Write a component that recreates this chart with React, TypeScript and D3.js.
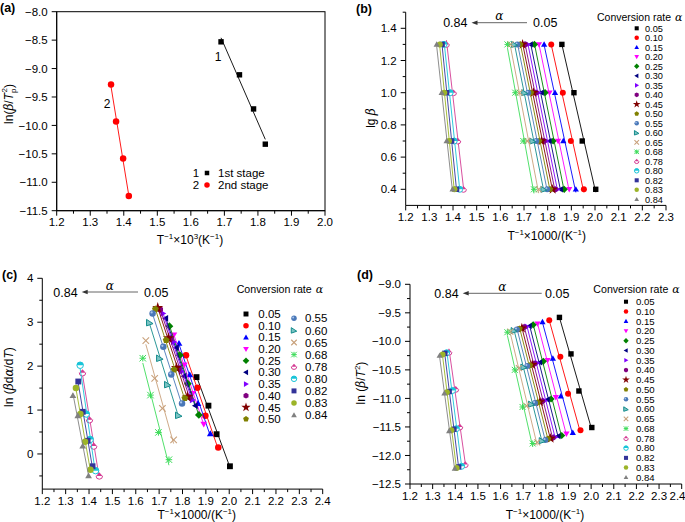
import React from 'react';
import * as d3 from 'd3';

const FONT = '"Liberation Sans", Arial, Helvetica, sans-serif';
const NARROW = '"Liberation Sans Narrow", "Arial Narrow", "Liberation Sans", Arial, sans-serif';

// ---------- Panel (a) data ----------
const stage1X = [1.69, 1.745, 1.787, 1.822];
const stage1Y = [-8.53, -9.11, -9.71, -10.33];
const stage2X = [1.362, 1.377, 1.398, 1.415];
const stage2Y = [-9.28, -9.93, -10.58, -11.24];

// ---------- Panels (b)-(d) data ----------
const alphaLabels = ['0.05', '0.10', '0.15', '0.20', '0.25', '0.30', '0.35', '0.40', '0.45', '0.50',
  '0.55', '0.60', '0.65', '0.68', '0.78', '0.80', '0.82', '0.83', '0.84'];

// lg(beta) for heating rates 20, 10, 5, 2.5 K/min
const lgBeta = [1.3, 1.0, 0.7, 0.4];

// T^-1 x 1000 for each conversion rate (beta = 20, 10, 5, 2.5)
const invT = [
  [1.860, 1.911, 1.946, 2.003],
  [1.815, 1.864, 1.898, 1.953],
  [1.785, 1.831, 1.866, 1.919],
  [1.763, 1.808, 1.844, 1.891],
  [1.744, 1.789, 1.823, 1.870],
  [1.728, 1.774, 1.807, 1.855],
  [1.716, 1.762, 1.795, 1.842],
  [1.704, 1.750, 1.784, 1.831],
  [1.694, 1.740, 1.774, 1.821],
  [1.684, 1.730, 1.764, 1.810],
  [1.672, 1.718, 1.752, 1.798],
  [1.660, 1.703, 1.737, 1.784],
  [1.643, 1.681, 1.714, 1.762],
  [1.630, 1.663, 1.697, 1.742],
  [1.372, 1.402, 1.420, 1.444],
  [1.362, 1.388, 1.405, 1.428],
  [1.354, 1.373, 1.394, 1.415],
  [1.344, 1.363, 1.383, 1.406],
  [1.331, 1.352, 1.373, 1.398],
];

// ln(beta dα/dT)
const lnBdadT = [
  [1.75, 1.10, 0.45, -0.28],
  [2.25, 1.51, 0.87, 0.15],
  [2.52, 1.80, 1.15, 0.46],
  [2.71, 2.03, 1.38, 0.68],
  [2.91, 2.25, 1.60, 0.89],
  [3.09, 2.42, 1.77, 1.10],
  [3.20, 2.55, 1.88, 1.23],
  [3.29, 2.62, 1.95, 1.29],
  [3.33, 2.64, 1.96, 1.30],
  [3.30, 2.59, 1.92, 1.27],
  [3.20, 2.44, 1.81, 1.15],
  [2.99, 2.18, 1.58, 0.88],
  [2.58, 1.72, 1.04, 0.32],
  [2.18, 1.34, 0.49, -0.13],
  [1.85, 0.78, 0.18, -0.50],
  [2.02, 0.91, 0.33, -0.38],
  [1.65, 0.96, 0.30, -0.28],
  [1.50, 0.91, 0.28, -0.36],
  [1.33, 0.87, 0.18, -0.50],
];

// ln(beta/T^2)
const lnBT2 = [
  [-9.58, -10.22, -10.87, -11.51],
  [-9.63, -10.27, -10.92, -11.56],
  [-9.66, -10.30, -10.96, -11.60],
  [-9.69, -10.33, -10.98, -11.62],
  [-9.71, -10.35, -11.01, -11.65],
  [-9.73, -10.37, -11.02, -11.66],
  [-9.74, -10.38, -11.04, -11.68],
  [-9.75, -10.39, -11.05, -11.69],
  [-9.77, -10.41, -11.06, -11.70],
  [-9.78, -10.42, -11.07, -11.71],
  [-9.79, -10.43, -11.08, -11.73],
  [-9.81, -10.45, -11.10, -11.74],
  [-9.83, -10.47, -11.13, -11.77],
  [-9.84, -10.50, -11.15, -11.79],
  [-10.19, -10.84, -11.50, -12.16],
  [-10.20, -10.86, -11.53, -12.19],
  [-10.21, -10.88, -11.54, -12.20],
  [-10.23, -10.89, -11.56, -12.22],
  [-10.25, -10.91, -11.57, -12.23],
];

const seriesColors = ['#000000', '#ff0000', '#0000ff', '#ff00ff', '#008000', '#000080', '#8000ff', '#800080',
  '#800000', '#808000', '#4a78b8', '#148c8c', '#c8a07a', '#3ddc5a', '#d43c94', '#18c4d8', '#333399', '#9cb428', '#808080'];
const seriesShapes = ['square', 'circle', 'triUp', 'triDown', 'diamond', 'triLeft', 'triRight', 'hexagon', 'star',
  'pentagon', 'sphere', 'flag', 'cross', 'asterisk', 'halfTri', 'halfCircle', 'square', 'circle', 'triUp'];

// ---------- helpers ----------
function polyPts(n: number, r: number, rotDeg: number, cx: number, cy: number) {
  const pts: string[] = [];
  for (let i = 0; i < n; i++) {
    const a = ((rotDeg - 90) + (360 / n) * i) * Math.PI / 180;
    pts.push(`${cx + r * Math.cos(a)},${cy + r * Math.sin(a)}`);
  }
  return pts.join(' ');
}

function Marker({ shape, color, cx, cy, s }: { shape: string; color: string; cx: number; cy: number; s: number }) {
  const r = s / 2;
  switch (shape) {
    case 'square':
      return <rect x={cx - r * 0.9} y={cy - r * 0.9} width={r * 1.8} height={r * 1.8} fill={color} />;
    case 'circle':
      return <circle cx={cx} cy={cy} r={r} fill={color} />;
    case 'sphere':
      return <g><circle cx={cx} cy={cy} r={r} fill={color} /><circle cx={cx - r * 0.3} cy={cy - r * 0.3} r={r * 0.35} fill="#a8c4ec" /></g>;
    case 'triUp':
      return <polygon points={polyPts(3, r * 1.2, 0, cx, cy + r * 0.15)} fill={color} />;
    case 'triDown':
      return <polygon points={polyPts(3, r * 1.2, 180, cx, cy - r * 0.15)} fill={color} />;
    case 'triLeft':
      return <polygon points={polyPts(3, r * 1.2, -90, cx + r * 0.15, cy)} fill={color} />;
    case 'triRight':
      return <polygon points={polyPts(3, r * 1.2, 90, cx - r * 0.15, cy)} fill={color} />;
    case 'diamond':
      return <polygon points={polyPts(4, r * 1.2, 0, cx, cy)} fill={color} />;
    case 'hexagon':
      return <polygon points={polyPts(6, r * 1.05, 0, cx, cy)} fill={color} />;
    case 'pentagon':
      return <polygon points={polyPts(5, r * 1.1, 0, cx, cy)} fill={color} />;
    case 'star': {
      const d = d3.symbol(d3.symbolStar, s * s * 0.9)() || '';
      return <path d={d} transform={`translate(${cx},${cy})`} fill={color} />;
    }
    case 'flag':
      return <polygon points={`${cx - r},${cy - r} ${cx + r},${cy + r * 0.3} ${cx - r},${cy + r}`} fill="#7cc4c4" stroke={color} strokeWidth={1} />;
    case 'cross':
      return <g stroke={color} strokeWidth={1.1}>
        <line x1={cx - r} y1={cy - r} x2={cx + r} y2={cy + r} />
        <line x1={cx - r} y1={cy + r} x2={cx + r} y2={cy - r} />
      </g>;
    case 'asterisk':
      return <g stroke={color} strokeWidth={1}>
        <line x1={cx - r} y1={cy - r} x2={cx + r} y2={cy + r} />
        <line x1={cx - r} y1={cy + r} x2={cx + r} y2={cy - r} />
        <line x1={cx} y1={cy - r} x2={cx} y2={cy + r} />
        <line x1={cx - r} y1={cy} x2={cx + r} y2={cy} />
      </g>;
    case 'halfTri':
      return <g>
        <path d={`M${cx - r},${cy} A${r},${r} 0 0 0 ${cx + r},${cy}`} fill="#fff" stroke={color} strokeWidth={1} />
        <polygon points={`${cx - r},${cy} ${cx},${cy - r * 1.1} ${cx + r},${cy}`} fill={color} />
      </g>;
    case 'halfCircle':
      return <g>
        <circle cx={cx} cy={cy} r={r} fill="#fff" stroke={color} strokeWidth={1} />
        <path d={`M${cx - r},${cy} A${r},${r} 0 0 1 ${cx + r},${cy} Z`} fill={color} />
      </g>;
    default:
      return <circle cx={cx} cy={cy} r={r} fill={color} />;
  }
}

function linFit(xs: number[], ys: number[]) {
  const mx = d3.mean(xs) as number;
  const my = d3.mean(ys) as number;
  let sxy = 0, sxx = 0;
  xs.forEach((x, i) => { sxy += (x - mx) * (ys[i] - my); sxx += (x - mx) * (x - mx); });
  const b = sxy / sxx;
  return { a: my - b * mx, b };
}

type Lin = d3.ScaleLinear<number, number>;

function ticksBy(a: number, b: number, step: number) {
  return d3.range(Math.round((b - a) / step) + 1).map(i => +(a + i * step).toFixed(4));
}

function XAxis({ x, y0, major, minor, fmt }: { x: Lin; y0: number; major: number[]; minor: number[]; fmt: (v: number) => string }) {
  const [r0, r1] = x.range();
  return <g>
    <line x1={r0} x2={r1} y1={y0} y2={y0} stroke="#000" strokeWidth={1} />
    {minor.map(v => <line key={'m' + v} x1={x(v)} x2={x(v)} y1={y0} y2={y0 + 3} stroke="#000" strokeWidth={1} />)}
    {major.map(v => <g key={'M' + v}>
      <line x1={x(v)} x2={x(v)} y1={y0} y2={y0 + 5} stroke="#000" strokeWidth={1} />
      <text x={Math.min(x(v), 677.5)} y={y0 + 15.5} textAnchor="middle" fontFamily={NARROW} fontSize={11.5}>{fmt(v)}</text>
    </g>)}
  </g>;
}

function YAxis({ y, x0, major, minor, fmt }: { y: Lin; x0: number; major: number[]; minor: number[]; fmt: (v: number) => string }) {
  const [r0, r1] = y.range();
  return <g>
    <line x1={x0} x2={x0} y1={r0} y2={r1} stroke="#000" strokeWidth={1} />
    {minor.map(v => <line key={'m' + v} x1={x0} x2={x0 - 3} y1={y(v)} y2={y(v)} stroke="#000" strokeWidth={1} />)}
    {major.map(v => <g key={'M' + v}>
      <line x1={x0} x2={x0 - 5} y1={y(v)} y2={y(v)} stroke="#000" strokeWidth={1} />
      <text x={x0 - 9} y={y(v)} dy="0.36em" textAnchor="end" fontFamily={NARROW} fontSize={11.5}>{fmt(v)}</text>
    </g>)}
  </g>;
}

const fmt1 = (v: number) => (v < 0 ? '\u2212' : '') + Math.abs(v).toFixed(1);
const fmt0 = (v: number) => (v < 0 ? '\u2212' : '') + Math.abs(v).toFixed(0);

function Series({ xs, ys, x, y, color, shape, s }: { xs: number[]; ys: number[]; x: Lin; y: Lin; color: string; shape: string; s: number }) {
  const { a, b } = linFit(xs, ys);
  const x0 = d3.min(xs) as number, x1 = d3.max(xs) as number;
  return <g>
    <line x1={x(x0)} y1={y(a + b * x0)} x2={x(x1)} y2={y(a + b * x1)} stroke={color} strokeWidth={0.9} />
    {xs.map((v, i) => <Marker key={i} shape={shape} color={color} cx={x(v)} cy={y(ys[i])} s={s} />)}
  </g>;
}

function AlphaArrow({ xEnd, xStart, yLine, labelRight }: { xEnd: number; xStart: number; yLine: number; labelRight: number }) {
  return <g fontFamily={NARROW} fontSize={12.5}>
    <text x={xEnd - 4} y={yLine + 4.5} textAnchor="end">0.84</text>
    <line x1={xEnd + 4} x2={xStart} y1={yLine} y2={yLine} stroke="#555" strokeWidth={0.9} />
    <path d={`M${xEnd},${yLine} L${xEnd + 6},${yLine - 2.2} L${xEnd + 6},${yLine + 2.2} Z`} fill="#333" />
    <text x={(xEnd + xStart) / 2} y={yLine - 2.5} textAnchor="middle" fontFamily="DejaVu Serif, serif" fontStyle="italic" fontSize={12}>α</text>
    <text x={labelRight} y={yLine + 4.5}>0.05</text>
  </g>;
}

function LegendTitle({ x, y, w }: { x: number; y: number; w: number }) {
  return <g>
    <text x={x} y={y} fontFamily={FONT} fontSize={11} textLength={w - 11} lengthAdjust="spacingAndGlyphs">Conversion rate</text>
    <text x={x + w - 7} y={y} fontFamily="DejaVu Serif, serif" fontStyle="italic" fontSize={11}>α</text>
  </g>;
}

// ---------- scales ----------
const ax = d3.scaleLinear().domain([1.2, 2.0]).range([56.7, 325]);
const ay = d3.scaleLinear().domain([-11.5, -8.0]).range([210.7, 11.7]);
const bx = d3.scaleLinear().domain([1.2, 2.3]).range([405.7, 666]);
const by = d3.scaleLinear().domain([0.3, 1.5]).range([205.4, 12.2]);
const cx = d3.scaleLinear().domain([1.2, 2.4]).range([42.3, 322.7]);
const cy = d3.scaleLinear().domain([-0.8, 4]).range([489.1, 278.3]);
const dx = d3.scaleLinear().domain([1.2, 2.4]).range([410, 681.7]);
const dy = d3.scaleLinear().domain([-12.5, -9.0]).range([484, 284.3]);

export default function App() {
  const fitA1 = linFit(stage1X, stage1Y);
  const fitA2 = linFit(stage2X, stage2Y);
  const a1x0 = d3.min(stage1X) as number, a1x1 = d3.max(stage1X) as number;
  const a2x0 = d3.min(stage2X) as number, a2x1 = d3.max(stage2X) as number;
  const xTicks12_20 = ticksBy(1.2, 2.0, 0.1);
  const xMin12_20 = ticksBy(1.25, 1.95, 0.1);
  const xTicks12_23 = ticksBy(1.2, 2.3, 0.1);
  const xMin12_23 = ticksBy(1.25, 2.25, 0.1);
  const xTicks12_24 = ticksBy(1.2, 2.4, 0.1);
  const xMin12_24 = ticksBy(1.25, 2.35, 0.1);

  return (
    <svg width={685} height={522} style={{ position: 'absolute', left: 0, top: 0, background: '#fff' }} fontFamily={FONT}>
      <rect x={0} y={0} width={685} height={522} fill="#fff" />

      {/* ================= Panel (a) ================= */}
      <text x={0} y={12} fontWeight="bold" fontSize={12.5}>(a)</text>
      <rect x={ax(1.2)} y={ay(-8.0)} width={ax(2.0) - ax(1.2)} height={ay(-11.5) - ay(-8.0)} fill="none" stroke="#000" strokeWidth={1} />
      <XAxis x={ax} y0={ay(-11.5)} major={xTicks12_20} minor={xMin12_20} fmt={v => v.toFixed(1)} />
      <YAxis y={ay} x0={ax(1.2)} major={ticksBy(-11.5, -8.0, 0.5)} minor={[]} fmt={fmt1} />
      <line x1={ax(a1x0)} y1={ay(fitA1.a + fitA1.b * a1x0)} x2={ax(a1x1)} y2={ay(fitA1.a + fitA1.b * a1x1)} stroke="#000" strokeWidth={0.9} />
      <line x1={ax(a2x0)} y1={ay(fitA2.a + fitA2.b * a2x0)} x2={ax(a2x1)} y2={ay(fitA2.a + fitA2.b * a2x1)} stroke="#ff0000" strokeWidth={0.9} />
      {stage1X.map((v, i) => <Marker key={'s1' + i} shape="square" color="#000" cx={ax(v)} cy={ay(stage1Y[i])} s={6} />)}
      {stage2X.map((v, i) => <Marker key={'s2' + i} shape="circle" color="#ff0000" cx={ax(v)} cy={ay(stage2Y[i])} s={6.5} />)}
      <text x={218} y={61} fontSize={12} textAnchor="middle">1</text>
      <text x={107} y={108} fontSize={12} textAnchor="middle">2</text>
      <g fontSize={11.5}>
        <text x={196} y={177} textAnchor="middle">1</text>
        <Marker shape="square" color="#000" cx={207} cy={173} s={5} />
        <text x={218} y={177}>1st stage</text>
        <text x={196} y={189} textAnchor="middle">2</text>
        <Marker shape="circle" color="#ff0000" cx={207} cy={185} s={5.5} />
        <text x={218} y={189}>2nd stage</text>
      </g>
      <text transform="translate(13,104) rotate(-90)" textAnchor="middle" fontSize={12}>
        ln(<tspan fontStyle="italic" fontFamily="DejaVu Serif, serif">β</tspan>/<tspan fontStyle="italic">T</tspan><tspan fontSize={8} dy={3}>p</tspan><tspan fontSize={8} dx={-4} dy={-9}>2</tspan><tspan dy={6}>)</tspan>
      </text>
      <text x={190} y={244} textAnchor="middle" fontSize={12}>
        T<tspan fontSize={8} dy={-5}>−1</tspan><tspan dy={5}>×10</tspan><tspan fontSize={8} dy={-5}>3</tspan><tspan dy={5}>(K</tspan><tspan fontSize={8} dy={-5}>−1</tspan><tspan dy={5}>)</tspan>
      </text>

      {/* ================= Panel (b) ================= */}
      <text x={356} y={13} fontWeight="bold" fontSize={12.5}>(b)</text>
      <XAxis x={bx} y0={by(0.3)} major={xTicks12_23} minor={xMin12_23} fmt={v => v.toFixed(1)} />
      <YAxis y={by} x0={bx(1.2)} major={ticksBy(0.4, 1.4, 0.2)} minor={ticksBy(0.5, 1.5, 0.2)} fmt={v => v.toFixed(1)} />
      {invT.map((xs, i) => <Series key={'b' + i} xs={xs} ys={lgBeta} x={bx} y={by} color={seriesColors[i]} shape={seriesShapes[i]} s={6} />)}
      <AlphaArrow xEnd={471.5} xStart={527} yLine={22.7} labelRight={533} />
      <LegendTitle x={597} y={21} w={85} />
      {alphaLabels.map((t, i) => <g key={'bl' + i}>
        <Marker shape={seriesShapes[i]} color={seriesColors[i]} cx={636.7} cy={28.3 + i * 9.5} s={4.5} />
        <text x={645} y={28.3 + i * 9.5} dy="0.35em" fontFamily={NARROW} fontSize={9.2}>{t}</text>
      </g>)}
      <text transform="translate(375,118) rotate(-90)" textAnchor="middle" fontSize={12}>
        lg <tspan fontStyle="italic" fontFamily="DejaVu Serif, serif">β</tspan>
      </text>
      <text x={546.7} y={240} textAnchor="middle" fontSize={12}>
        T<tspan fontSize={8} dy={-5}>−1</tspan><tspan dy={5}>×1000/(K</tspan><tspan fontSize={8} dy={-5}>−1</tspan><tspan dy={5}>)</tspan>
      </text>

      {/* ================= Panel (c) ================= */}
      <text x={2} y={279} fontWeight="bold" fontSize={12.5}>(c)</text>
      <XAxis x={cx} y0={cy(-0.8)} major={xTicks12_24} minor={xMin12_24} fmt={v => v.toFixed(1)} />
      <YAxis y={cy} x0={cx(1.2)} major={ticksBy(0, 4, 1)} minor={ticksBy(-0.5, 3.5, 1)} fmt={fmt0} />
      {invT.map((xs, i) => <Series key={'c' + i} xs={xs} ys={lnBdadT[i]} x={cx} y={cy} color={seriesColors[i]} shape={seriesShapes[i]} s={6.5} />)}
      <AlphaArrow xEnd={81.7} xStart={138} yLine={292} labelRight={144} />
      <LegendTitle x={236.7} y={293} w={86} />
      {alphaLabels.map((t, i) => {
        const col = i < 10 ? 0 : 1;
        const row = col === 0 ? i : i - 10;
        const yy = col === 0 ? 314 + row * 11.67 : 318.3 + row * 12.1;
        const mx = col === 0 ? 246 : 294;
        const tx = col === 0 ? 258.3 : 305;
        return <g key={'cl' + i}>
          <Marker shape={seriesShapes[i]} color={seriesColors[i]} cx={mx} cy={yy} s={5.5} />
          <text x={tx} y={yy} dy="0.36em" fontFamily={NARROW} fontSize={11.5}>{t}</text>
        </g>;
      })}
      <text transform="translate(13,377) rotate(-90)" textAnchor="middle" fontSize={12}>
        ln (<tspan fontStyle="italic" fontFamily="DejaVu Serif, serif">β</tspan>d<tspan fontStyle="italic" fontFamily="DejaVu Serif, serif">α</tspan>/d<tspan fontStyle="italic">T</tspan>)
      </text>
      <text x={196.7} y={519} textAnchor="middle" fontSize={12}>
        T<tspan fontSize={8} dy={-5}>−1</tspan><tspan dy={5}>×1000/(K</tspan><tspan fontSize={8} dy={-5}>−1</tspan><tspan dy={5}>)</tspan>
      </text>

      {/* ================= Panel (d) ================= */}
      <text x={357} y={279} fontWeight="bold" fontSize={12.5}>(d)</text>
      <XAxis x={dx} y0={dy(-12.5)} major={xTicks12_24} minor={xMin12_24} fmt={v => v.toFixed(1)} />
      <YAxis y={dy} x0={dx(1.2)} major={ticksBy(-12.5, -9.0, 0.5)} minor={ticksBy(-12.25, -9.25, 0.5)} fmt={fmt1} />
      {invT.map((xs, i) => <Series key={'d' + i} xs={xs} ys={lnBT2[i]} x={dx} y={dy} color={seriesColors[i]} shape={seriesShapes[i]} s={6} />)}
      <AlphaArrow xEnd={462.7} xStart={541.7} yLine={293.3} labelRight={545} />
      <LegendTitle x={593.3} y={293} w={86} />
      {alphaLabels.map((t, i) => <g key={'dl' + i}>
        <Marker shape={seriesShapes[i]} color={seriesColors[i]} cx={626} cy={301.7 + i * 9.76} s={4.5} />
        <text x={636} y={301.7 + i * 9.76} dy="0.35em" fontFamily={NARROW} fontSize={9.6}>{t}</text>
      </g>)}
      <text transform="translate(365,383) rotate(-90)" textAnchor="middle" fontSize={12}>
        ln (<tspan fontStyle="italic" fontFamily="DejaVu Serif, serif">β</tspan>/<tspan fontStyle="italic">T</tspan><tspan fontSize={8} dy={-5}>2</tspan><tspan dy={5}>)</tspan>
      </text>
      <text x={545} y={519} textAnchor="middle" fontSize={12}>
        T<tspan fontSize={8} dy={-5}>−1</tspan><tspan dy={5}>×1000/(K</tspan><tspan fontSize={8} dy={-5}>−1</tspan><tspan dy={5}>)</tspan>
      </text>
    </svg>
  );
}
